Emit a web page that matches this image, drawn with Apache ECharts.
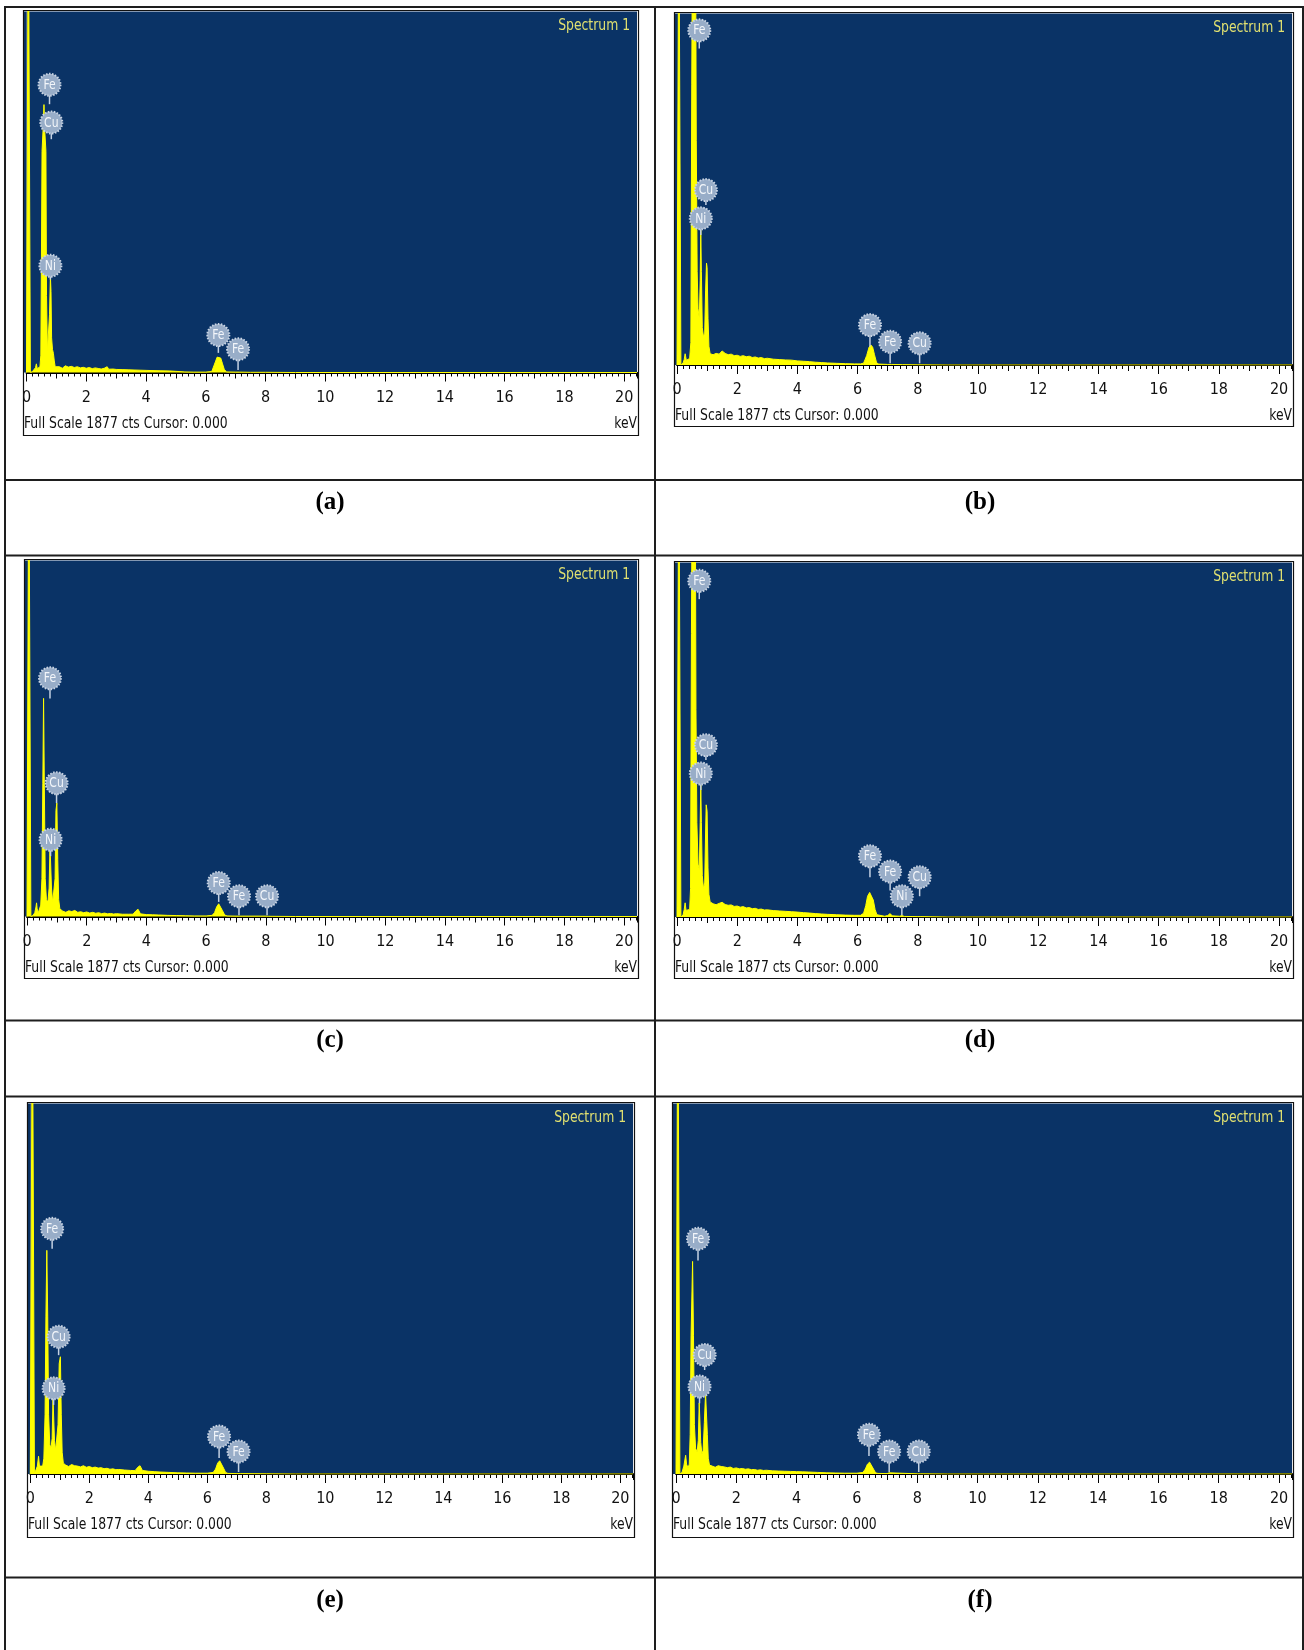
<!DOCTYPE html>
<html>
<head>
<meta charset="utf-8">
<script src="https://cdn.jsdelivr.net/npm/echarts@6/dist/echarts.min.js"></script>
<style>
  html, body { margin: 0; padding: 0; background: #ffffff; }
  #chart { width: 1304px; height: 1650px; }
</style>
</head>
<body>
<div id="chart"></div>
<script>
// EDS spectra of six samples: energy (keV) against counts, full scale 1877 cts.
const fullScaleCounts = 1877;
const energyMax = 20.43;
const energyTickLabels = [0, 2, 4, 6, 8, 10, 12, 14, 16, 18, 20];
const panelCaptions = ['(a)', '(b)', '(c)', '(d)', '(e)', '(f)'];
const spectrumTitle = 'Spectrum 1';
const footerLeft = 'Full Scale 1877 cts Cursor: 0.000';
const footerRight = 'keV';

// [energy keV, counts]
const spectrumA = [[0,0],[0.05,0],[0.06,2600],[0.12,2600],[0.13,0],[0.2,5],[0.25,10],[0.3,25],[0.33,45],[0.36,20],[0.4,15],[0.45,30],[0.48,90],[0.5,600],[0.52,1150],[0.56,1280],[0.585,1393],[0.61,1260],[0.65,1150],[0.67,400],[0.7,110],[0.74,105],[0.77,300],[0.8,500],[0.82,420],[0.84,180],[0.87,120],[0.9,100],[0.93,60],[0.96,30],[1.0,25],[1.1,30],[1.2,22],[1.3,35],[1.4,28],[1.5,32],[1.6,26],[1.7,30],[1.8,24],[1.9,27],[2.0,22],[2.1,26],[2.2,20],[2.3,24],[2.4,21],[2.5,18],[2.6,22],[2.7,30],[2.75,17],[2.9,18],[3.0,16],[3.2,15],[3.4,14],[3.6,13],[3.8,12],[4.0,11],[4.2,10],[4.5,9],[4.8,8],[5.0,6],[5.3,3],[5.6,2],[6.0,2],[6.2,5],[6.25,15],[6.32,55],[6.38,80],[6.44,83],[6.5,75],[6.56,45],[6.62,15],[6.7,3],[7.0,2],[7.06,8],[7.12,2],[7.5,1],[8.0,1],[9.0,0],[20.43,0]];
const spectrumB = [[0,0],[0.05,0],[0.06,2600],[0.12,2600],[0.13,0],[0.2,10],[0.24,30],[0.27,60],[0.31,25],[0.36,20],[0.42,35],[0.46,120],[0.49,1500],[0.51,2200],[0.62,2200],[0.64,1200],[0.67,500],[0.7,300],[0.74,250],[0.77,450],[0.79,720],[0.81,500],[0.84,200],[0.88,150],[0.92,170],[0.95,400],[0.98,544],[1.0,520],[1.03,250],[1.06,100],[1.1,60],[1.2,55],[1.3,62],[1.4,58],[1.5,75],[1.6,62],[1.7,55],[1.8,58],[1.9,50],[2.0,52],[2.1,46],[2.2,50],[2.3,44],[2.4,47],[2.5,40],[2.6,43],[2.7,37],[2.8,40],[2.9,34],[3.0,36],[3.2,31],[3.4,29],[3.6,27],[3.8,26],[4.0,22],[4.2,20],[4.4,18],[4.6,15],[4.8,13],[5.0,11],[5.3,9],[5.6,7],[5.9,6],[6.1,6],[6.2,10],[6.3,50],[6.38,95],[6.44,107],[6.5,95],[6.56,55],[6.63,12],[6.7,5],[7.0,3],[7.06,8],[7.12,3],[7.5,2],[8.0,1],[9.0,0],[20.43,0]];
const spectrumC = [[0,0],[0.05,0],[0.06,2600],[0.12,2600],[0.13,0],[0.2,5],[0.26,20],[0.3,50],[0.32,72],[0.34,40],[0.38,20],[0.42,25],[0.46,60],[0.5,200],[0.53,700],[0.555,1150],[0.58,700],[0.61,200],[0.65,90],[0.7,75],[0.74,150],[0.77,380],[0.79,380],[0.82,150],[0.86,75],[0.9,80],[0.94,200],[0.97,560],[1.0,598],[1.03,300],[1.06,90],[1.1,40],[1.2,28],[1.3,22],[1.4,30],[1.5,26],[1.6,32],[1.7,22],[1.8,25],[1.9,20],[2.0,24],[2.1,18],[2.2,22],[2.3,17],[2.4,20],[2.5,15],[2.6,18],[2.7,14],[2.8,16],[2.9,13],[3.0,15],[3.2,12],[3.4,12],[3.55,12],[3.65,30],[3.72,38],[3.8,14],[4.0,10],[4.2,9],[4.4,8],[4.7,6],[5.0,5],[5.3,4],[5.6,3],[6.0,3],[6.2,6],[6.28,20],[6.35,50],[6.42,67],[6.48,60],[6.55,30],[6.62,8],[6.7,3],[7.0,2],[7.06,6],[7.12,2],[8.0,2],[8.05,5],[8.1,1],[9.0,0],[20.43,0]];
const spectrumD = [[0,0],[0.05,0],[0.06,2600],[0.12,2600],[0.13,0],[0.2,10],[0.24,40],[0.27,75],[0.3,35],[0.36,25],[0.42,40],[0.45,150],[0.48,1500],[0.5,2200],[0.61,2200],[0.63,1100],[0.66,500],[0.7,280],[0.74,250],[0.77,500],[0.79,700],[0.81,500],[0.84,220],[0.88,150],[0.92,180],[0.95,450],[0.97,594],[1.0,560],[1.03,260],[1.06,120],[1.1,80],[1.2,70],[1.3,65],[1.4,72],[1.5,78],[1.6,66],[1.7,62],[1.8,64],[1.9,56],[2.0,58],[2.1,52],[2.2,55],[2.3,48],[2.4,50],[2.5,44],[2.6,46],[2.7,40],[2.8,42],[2.9,37],[3.0,38],[3.2,34],[3.4,32],[3.6,30],[3.8,28],[4.0,26],[4.2,23],[4.4,21],[4.6,18],[4.8,16],[5.0,14],[5.3,12],[5.6,10],[5.9,9],[6.1,9],[6.2,20],[6.27,60],[6.33,110],[6.4,130],[6.46,125],[6.52,90],[6.58,40],[6.64,12],[6.7,6],[6.9,4],[7.0,8],[7.08,18],[7.15,6],[7.4,4],[7.47,8],[7.55,3],[8.0,2],[8.05,5],[8.1,2],[9.0,0],[20.43,0]];
const spectrumE = [[0,0],[0.06,0],[0.07,2600],[0.13,2600],[0.14,0],[0.2,10],[0.24,40],[0.28,90],[0.31,40],[0.36,30],[0.42,40],[0.46,80],[0.5,300],[0.53,800],[0.56,1133],[0.59,800],[0.62,300],[0.66,150],[0.7,130],[0.74,180],[0.77,384],[0.79,380],[0.82,170],[0.86,120],[0.9,130],[0.94,250],[0.98,560],[1.02,594],[1.05,300],[1.08,110],[1.12,55],[1.2,45],[1.3,38],[1.4,48],[1.5,42],[1.6,40],[1.7,36],[1.8,42],[1.9,34],[2.0,38],[2.1,32],[2.2,35],[2.3,30],[2.4,32],[2.5,27],[2.6,29],[2.7,24],[2.8,26],[2.9,22],[3.0,23],[3.2,20],[3.4,18],[3.55,17],[3.65,35],[3.72,42],[3.8,18],[4.0,14],[4.2,12],[4.4,10],[4.7,8],[5.0,6],[5.3,5],[5.6,4],[6.0,4],[6.2,8],[6.28,25],[6.35,55],[6.42,67],[6.48,58],[6.55,30],[6.62,8],[6.7,3],[7.0,2],[7.06,6],[7.12,2],[8.0,1],[9.0,0],[20.43,0]];
const spectrumF = [[0,0],[0.05,0],[0.06,2600],[0.12,2600],[0.13,0],[0.2,8],[0.26,40],[0.32,95],[0.35,50],[0.4,30],[0.44,50],[0.47,200],[0.5,700],[0.55,1077],[0.58,700],[0.61,250],[0.65,130],[0.7,110],[0.74,170],[0.77,360],[0.79,350],[0.82,160],[0.86,100],[0.9,120],[0.94,260],[0.98,410],[1.01,400],[1.04,200],[1.07,80],[1.11,45],[1.2,40],[1.3,34],[1.4,42],[1.5,38],[1.6,36],[1.7,32],[1.8,35],[1.9,28],[2.0,31],[2.1,26],[2.2,28],[2.3,24],[2.4,26],[2.5,22],[2.6,23],[2.7,19],[2.8,21],[2.9,18],[3.0,19],[3.2,16],[3.4,15],[3.6,14],[3.8,13],[4.0,12],[4.2,11],[4.4,10],[4.7,8],[5.0,6],[5.3,5],[5.6,4],[6.0,4],[6.2,8],[6.28,25],[6.35,50],[6.42,60],[6.48,52],[6.55,25],[6.62,6],[6.7,3],[7.0,2],[7.07,6],[7.12,2],[8.0,1],[8.05,4],[8.1,1],[9.0,0],[20.43,0]];

// Peak markers: [element, energy keV, marker height cts, stem end cts]
const peaksA = [['Fe',0.77,1496,1395],['Cu',0.83,1300,1213],['Ni',0.80,555,483],['Fe',6.42,195,102],['Fe',7.08,121,13]];
const peaksB = [['Fe',0.74,1787,1690],['Cu',0.96,934,854],['Ni',0.79,783,694],['Fe',6.41,213,98],['Fe',7.08,124,9],['Cu',8.06,116,9]];
const peaksC = [['Fe',0.77,1256,1150],['Cu',0.99,703,598],['Ni',0.79,405,318],['Fe',6.42,177,77],['Fe',7.10,107,6],['Cu',8.04,107,6]];
const peaksD = [['Fe',0.74,1780,1683],['Cu',0.96,910,831],['Ni',0.79,760,673],['Fe',6.41,322,211],['Fe',7.08,241,140],['Ni',7.47,110,9],['Cu',8.06,211,110]];
const peaksE = [['Fe',0.74,1242,1141],['Cu',0.96,695,602],['Ni',0.79,434,350],['Fe',6.40,190,81],['Fe',7.06,114,10]];
const peaksF = [['Fe',0.73,1192,1082],['Cu',0.95,603,527],['Ni',0.78,443,358],['Fe',6.40,199,91],['Fe',7.07,114,10],['Cu',8.05,114,10]];

const spectra = [spectrumA, spectrumB, spectrumC, spectrumD, spectrumE, spectrumF];
const peakSets = [peaksA, peaksB, peaksC, peaksD, peaksE, peaksF];

// Screen placement of each spectrum window (box edges, zero-keV x, axis line y)
const frames = [
  { L: 23,  T: 10,   R: 638,  B: 435,  x0: 26.5, axis: 372.5, cx: 330, capY: 503 },
  { L: 674, T: 12,   R: 1293, B: 426,  x0: 677,  axis: 365,   cx: 980, capY: 503 },
  { L: 24,  T: 559,  R: 638,  B: 978,  x0: 27,   axis: 916.5, cx: 330, capY: 1041 },
  { L: 674, T: 561,  R: 1293, B: 978,  x0: 677,  axis: 917,   cx: 980, capY: 1041 },
  { L: 27,  T: 1102, R: 634,  B: 1537, x0: 30.3, axis: 1474,  cx: 330, capY: 1601 },
  { L: 672, T: 1102, R: 1293, B: 1537, x0: 676,  axis: 1474,  cx: 980, capY: 1601 }
];

const BLUE = '#0a3366';
const YELLOW = '#ffff00';
const NARROW = "'Liberation Sans Narrow','DejaVu Sans Condensed','Arial Narrow','Liberation Sans',sans-serif";
const SERIF = "'Liberation Serif','Times New Roman',serif";
const NARROW_SCALE = 0.86;

function badgeRenderer(peaks) {
  return function (params, api) {
    const p = peaks[params.dataIndex];
    const c = api.coord([p[1], p[2]]);
    const s = api.coord([p[1], p[3]]);
    const r = 11;
    return {
      type: 'group',
      children: [
        { type: 'line', shape: { x1: c[0], y1: c[1] + r - 1, x2: c[0], y2: s[1] },
          style: { stroke: '#c4d1e2', lineWidth: 1.5 } },
        { type: 'circle', shape: { cx: c[0], cy: c[1], r: r },
          style: { fill: '#98adc8', stroke: '#c9d4e3', lineWidth: 2, lineDash: [1.5, 1.5] } },
        { type: 'text', x: c[0], y: c[1] + 0.5, scaleX: NARROW_SCALE,
          style: { text: p[0], align: 'center', verticalAlign: 'middle',
            textAlign: 'center', textVerticalAlign: 'middle', fill: '#f3f6fa', font: '14px ' + NARROW } }
      ]
    };
  };
}

function narrowText(x, y, text, align, color) {
  return { type: 'text', x: x, y: y, scaleX: NARROW_SCALE, z: 10,
    style: { text: text, align: align, verticalAlign: 'middle', textAlign: align, textVerticalAlign: 'middle',
      fill: color, font: '16px ' + NARROW } };
}

const grids = [], xAxes = [], yAxes = [], series = [], graphics = [];

// Table rules
const ruleStyle = { stroke: '#1e1e1e', lineWidth: 2 };
[7, 480, 555.5, 1020.5, 1096.5, 1577.5].forEach(function (y) {
  graphics.push({ type: 'line', shape: { x1: 5, y1: y, x2: 1304, y2: y }, style: ruleStyle, z: 20 });
});
[5, 655, 1303].forEach(function (x) {
  graphics.push({ type: 'line', shape: { x1: x, y1: 6, x2: x, y2: 1650 }, style: ruleStyle, z: 20 });
});

frames.forEach(function (f, i) {
  const top = f.T + 1.5;
  grids.push({
    left: f.x0, top: top, width: f.R - 1 - f.x0, height: f.axis - top,
    show: true, backgroundColor: BLUE, borderWidth: 0
  });
  // labelled axis every 2 keV
  xAxes.push({
    gridIndex: i, type: 'value', min: 0, max: energyMax, position: 'bottom', offset: 0,
    axisLine: { show: true, onZero: false, lineStyle: { color: '#000', width: 2 } },
    axisTick: { show: true, customValues: energyTickLabels, length: 9, lineStyle: { color: '#000', width: 1 } },
    axisLabel: { show: true, customValues: energyTickLabels, margin: 17, fontSize: 16, color: '#111', fontFamily: NARROW },
    splitLine: { show: false }
  });
  // 1 keV ticks
  xAxes.push({
    gridIndex: i, type: 'value', min: 0, max: energyMax, interval: 1, position: 'bottom', offset: 0,
    axisLine: { show: false }, axisLabel: { show: false }, splitLine: { show: false },
    axisTick: { show: true, length: 6, lineStyle: { color: '#000', width: 1 } }
  });
  // 0.2 keV ticks
  xAxes.push({
    gridIndex: i, type: 'value', min: 0, max: energyMax, interval: 0.2, position: 'bottom', offset: 0,
    axisLine: { show: false }, axisLabel: { show: false }, splitLine: { show: false },
    axisTick: { show: true, length: 4, lineStyle: { color: '#000', width: 1 } }
  });
  yAxes.push({ gridIndex: i, type: 'value', min: 0, max: fullScaleCounts, show: false });

  series.push({
    type: 'line', xAxisIndex: 3 * i, yAxisIndex: i, data: spectra[i],
    symbol: 'none', silent: true, clip: true, z: 3,
    lineStyle: { color: YELLOW, width: 1 },
    areaStyle: { color: YELLOW, opacity: 1 }
  });
  series.push({
    type: 'custom', xAxisIndex: 3 * i, yAxisIndex: i, silent: true, clip: false, z: 5,
    data: peakSets[i].map(function (p) { return [p[1], p[2], p[3]]; }),
    encode: { x: 0, y: 1 },
    renderItem: badgeRenderer(peakSets[i])
  });

  // blue strip left of zero keV
  graphics.push({ type: 'rect', shape: { x: f.L + 1, y: top, width: f.x0 - f.L - 1, height: f.axis - top },
    style: { fill: BLUE }, z: 1 });
  // window frame
  graphics.push({ type: 'rect', shape: { x: f.L + 0.5, y: f.T + 0.5, width: f.R - f.L, height: f.B - f.T },
    style: { fill: 'transparent', stroke: '#111', lineWidth: 1.2 }, z: 10 });
  graphics.push(narrowText(f.R - 8, f.T + 16, spectrumTitle, 'right', '#e0e070'));
  graphics.push(narrowText(f.L + 1, f.axis + 51, footerLeft, 'left', '#111'));
  graphics.push(narrowText(f.R - 1, f.axis + 51, footerRight, 'right', '#111'));
  graphics.push({ type: 'text', x: f.cx, y: f.capY, z: 10,
    style: { text: panelCaptions[i], align: 'center', verticalAlign: 'middle', textAlign: 'center', textVerticalAlign: 'middle',
      fill: '#000', font: 'bold 25px ' + SERIF } });
});

const chart = echarts.init(document.getElementById('chart'), null, { renderer: 'canvas', width: 1304, height: 1650 });
chart.setOption({
  animation: false,
  backgroundColor: '#ffffff',
  grid: grids,
  xAxis: xAxes,
  yAxis: yAxes,
  series: series,
  graphic: { elements: graphics }
});
</script>
</body>
</html>
